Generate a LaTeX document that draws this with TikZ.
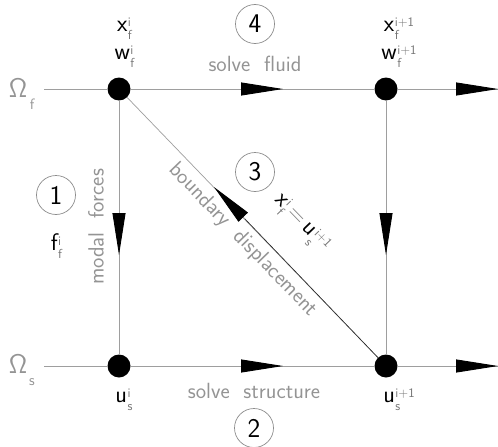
\documentclass[tikz,border=0pt]{standalone}
\usetikzlibrary{arrows.meta}
\usepackage{fontspec}
\newcommand{\ssz}{\fontsize{13}{14}\selectfont}
\newcommand{\sv}[3]{#1\hspace{0.5pt}\rlap{\raisebox{5pt}{\color{black!55}\ssz #3}}\rlap{\raisebox{-8pt}{\color{black!55}\ssz #2}}\phantom{\ssz #3}}
\begin{document}
\begin{tikzpicture}[x=1pt,y=-1pt,
  line/.style={draw=black!38,line width=0.9pt},
  dot/.style={circle,fill=black,minimum size=23pt,inner sep=0pt},
  arr/.style={-{Triangle[length=42pt,width=13pt,color=black]},line width=0.9pt,draw=black!38},
  glabel/.style={text=black!42,font=\sffamily\fontsize{22}{24}\selectfont,inner sep=0pt},
  var/.style={text=black,font=\sffamily\fontsize{24}{26}\selectfont,inner sep=0pt},
  num/.style={draw=black!45,circle,minimum size=39pt,inner sep=0pt,line width=0.7pt,font=\sffamily\fontsize{27}{28}\selectfont}]
\useasboundingbox (0,0) rectangle (498,447);
% nodes
\node[dot] (A) at (119,89) {};
\node[dot] (B) at (386,89) {};
\node[dot] (C) at (119,366) {};
\node[dot] (D) at (386,366) {};
\coordinate (Lf) at (44,89);
\coordinate (Ls) at (44,366);
\coordinate (Rf) at (498,89);
\coordinate (Rs) at (498,366);
% lines
\draw[line] (Lf) -- (A) -- (B) -- (Rf);
\draw[line] (Ls) -- (C) -- (D) -- (Rs);
\draw[line] (A) -- (C);
\draw[line] (B) -- (D);
\draw[line,line width=0.7pt] (A) -- (D);
% arrows
\coordinate (t1) at (240,89); \coordinate (t1e) at (283,89);
\coordinate (t2) at (455,89); \coordinate (t2e) at (498,89);
\coordinate (b1) at (240,366); \coordinate (b1e) at (283,366);
\coordinate (b2) at (455,366); \coordinate (b2e) at (498,366);
\coordinate (v1) at (119,211); \coordinate (v1e) at (119,255);
\coordinate (v2) at (386,211); \coordinate (v2e) at (386,255);
\coordinate (d1) at (245,219); \coordinate (d1e) at (214,187);
\draw[arr] (t1) -- (t1e);
\draw[arr] (t2) -- (t2e);
\draw[arr] (b1) -- (b1e);
\draw[arr] (b2) -- (b2e);
\draw[arr] (v1) -- (v1e);
\draw[arr] (v2) -- (v2e);
\draw[arr] (d1) -- (d1e);
\draw[black!85,line width=0.6pt] (d1) -- (D);
% domain labels
\node[glabel,font=\sffamily\fontsize{27}{28}\selectfont] (Of) at (18,88) {Ω};
\node[glabel,font=\sffamily\fontsize{15}{16}\selectfont] (Ofs) at (32,104) {f};
\node[glabel,font=\sffamily\fontsize{27}{28}\selectfont] (Os) at (18,364) {Ω};
\node[glabel,font=\sffamily\fontsize{15}{16}\selectfont] (Oss) at (32,382) {s};
% variables
\node[var] (xf) at (124,29) {\sv{x}{f}{i}};
\node[var] (wf) at (124,57) {\sv{w}{f}{i}};
\node[var] (xf1) at (399,29) {\sv{x}{f}{i+1}};
\node[var] (wf1) at (399,57) {\sv{w}{f}{i+1}};
\node[var] (ff) at (56,246) {\sv{f}{f}{i}};
\node[var] (us) at (123,400) {\sv{u}{s}{i}};
\node[var] (us1) at (399,400) {\sv{u}{s}{i+1}};
% gray labels
\node[glabel] (sf) at (255,64) {solve\ \ fluid};
\node[glabel] (ss) at (254,391) {solve\ \ structure};
\node[glabel,rotate=90] (mf) at (96,227) {modal\ \ forces};
\node[glabel,rotate=-46] (bd) at (243,240) {boundary\ \ displacement};
\node[var,rotate=-46] (eq) at (301,224) {\sv{x}{f}{i}\,{\color{black!50}=}\,\sv{u}{s}{i+1}};
% circled numbers
\node[num] (n1) at (56,195) {1};
\node[num] (n4) at (255,24) {4};
\node[num] (n3) at (255,172) {3};
\node[num] (n2) at (254,428) {2};
\end{tikzpicture}
\end{document}
